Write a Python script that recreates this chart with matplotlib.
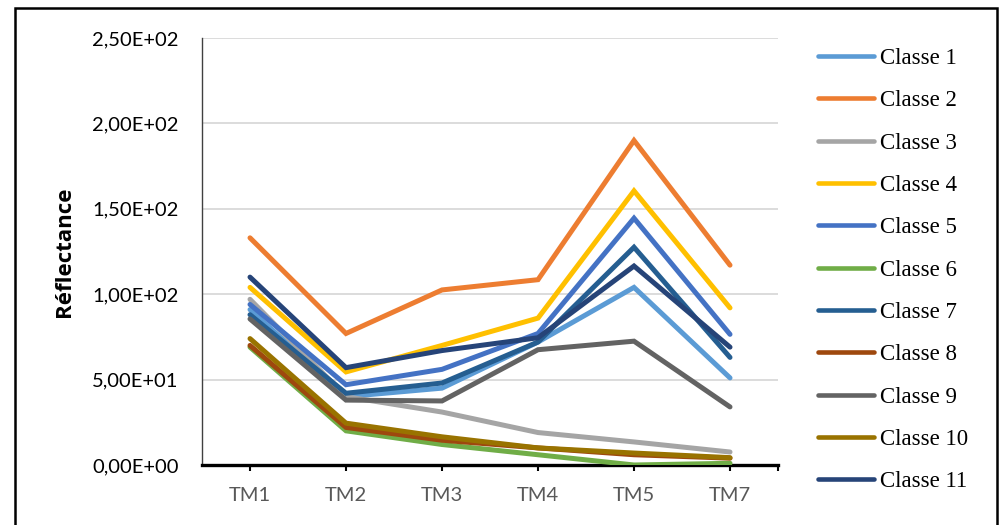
import matplotlib
matplotlib.use("Agg")
import matplotlib.pyplot as plt
from matplotlib.patches import Rectangle
from matplotlib.ticker import FuncFormatter, FixedLocator

bands = ["TM1", "TM2", "TM3", "TM4", "TM5", "TM7"]
classes = ["Classe 1", "Classe 2", "Classe 3", "Classe 4", "Classe 5", "Classe 6",
           "Classe 7", "Classe 8", "Classe 9", "Classe 10", "Classe 11"]
classe1 = [91, 40, 45, 72, 104, 51]
classe2 = [133, 77, 102.5, 108.5, 190, 117]
classe3 = [97, 40, 31, 19, 13.5, 7.6]
classe4 = [104, 54.5, 70, 86, 160.5, 92]
classe5 = [94, 47, 56, 77, 144.5, 76.5]
classe6 = [69, 20, 12, 6, 0, 1]
classe7 = [88, 42, 48, 72, 127.5, 63]
classe8 = [70, 22, 14.5, 10, 6, 4]
classe9 = [85.5, 38, 37.5, 67.5, 72.5, 34]
classe10 = [74, 24.5, 16.5, 10, 7, 4.3]
classe11 = [110, 57, 67, 74.5, 116.5, 69]
series = [classe1, classe2, classe3, classe4, classe5, classe6,
          classe7, classe8, classe9, classe10, classe11]
colors = ["#5B9BD5", "#ED7D31", "#A5A5A5", "#FFC000", "#4472C4", "#70AD47",
          "#255E91", "#9E480E", "#636363", "#997300", "#264478"]
yticks = [0, 50, 100, 150, 200, 250]

fig = plt.figure(figsize=(10.07, 5.25), dpi=100)
ax = fig.add_axes([0.2006, 0.1143, 0.572, 0.8133])

x = list(range(len(bands)))
for vals, c, lab in zip(series, colors, classes):
    ax.plot(x, vals, color=c, lw=3.6, solid_capstyle="round",
            solid_joinstyle="miter", label=lab, zorder=3)

ax.set_xlim(-0.5, 5.5)
ax.set_ylim(0, 250)
ax.set_yticks(yticks)

def fmt(v, pos):
    s = "%.2E" % v
    return s.replace(".", ",")
ax.yaxis.set_major_formatter(FuncFormatter(fmt))
ax.grid(axis="y", color="#D9D9D9", lw=1.3, zorder=0)
ax.set_axisbelow(True)

ax.set_xticks(x)
ax.set_xticklabels(bands)
ax.xaxis.set_minor_locator(FixedLocator([5.5]))
ax.tick_params(axis="x", which="both", length=4, width=1.5, color="black",
               labelsize=14.5, labelcolor="#595959", pad=12)
ax.tick_params(axis="y", length=0, labelsize=14.5, labelcolor="black", pad=17)
for lab in ax.get_xticklabels() + ax.get_yticklabels():
    lab.set_family(["Lato", "DejaVu Sans"])

for s in ["top", "right"]:
    ax.spines[s].set_visible(False)
ax.spines["left"].set_color("#404040")
ax.spines["left"].set_linewidth(1.0)
ax.spines["bottom"].set_color("black")
ax.spines["bottom"].set_linewidth(2.4)

ax.set_ylabel("Réflectance", fontsize=16, fontweight="bold",
              family=["Open Sans", "DejaVu Sans"])
ax.yaxis.set_label_coords(-0.22, 0.5)

leg = fig.legend(loc="upper left", bbox_to_anchor=(0.812, 0.909),
                 frameon=False, borderpad=0, borderaxespad=0,
                 handlelength=2.45, handletextpad=0.26, labelspacing=0.93,
                 prop={"family": ["Liberation Serif", "DejaVu Serif"], "size": 16.5})
for l in leg.get_lines():
    l.set_linewidth(3.3)

fig.patches.append(Rectangle((15 / 1007, -0.05), (997 - 15) / 1007, 1 - 8 / 525 + 0.05,
                             transform=fig.transFigure, fill=False,
                             edgecolor="black", lw=1.8, zorder=10))

fig.savefig("out.png", dpi=100)
